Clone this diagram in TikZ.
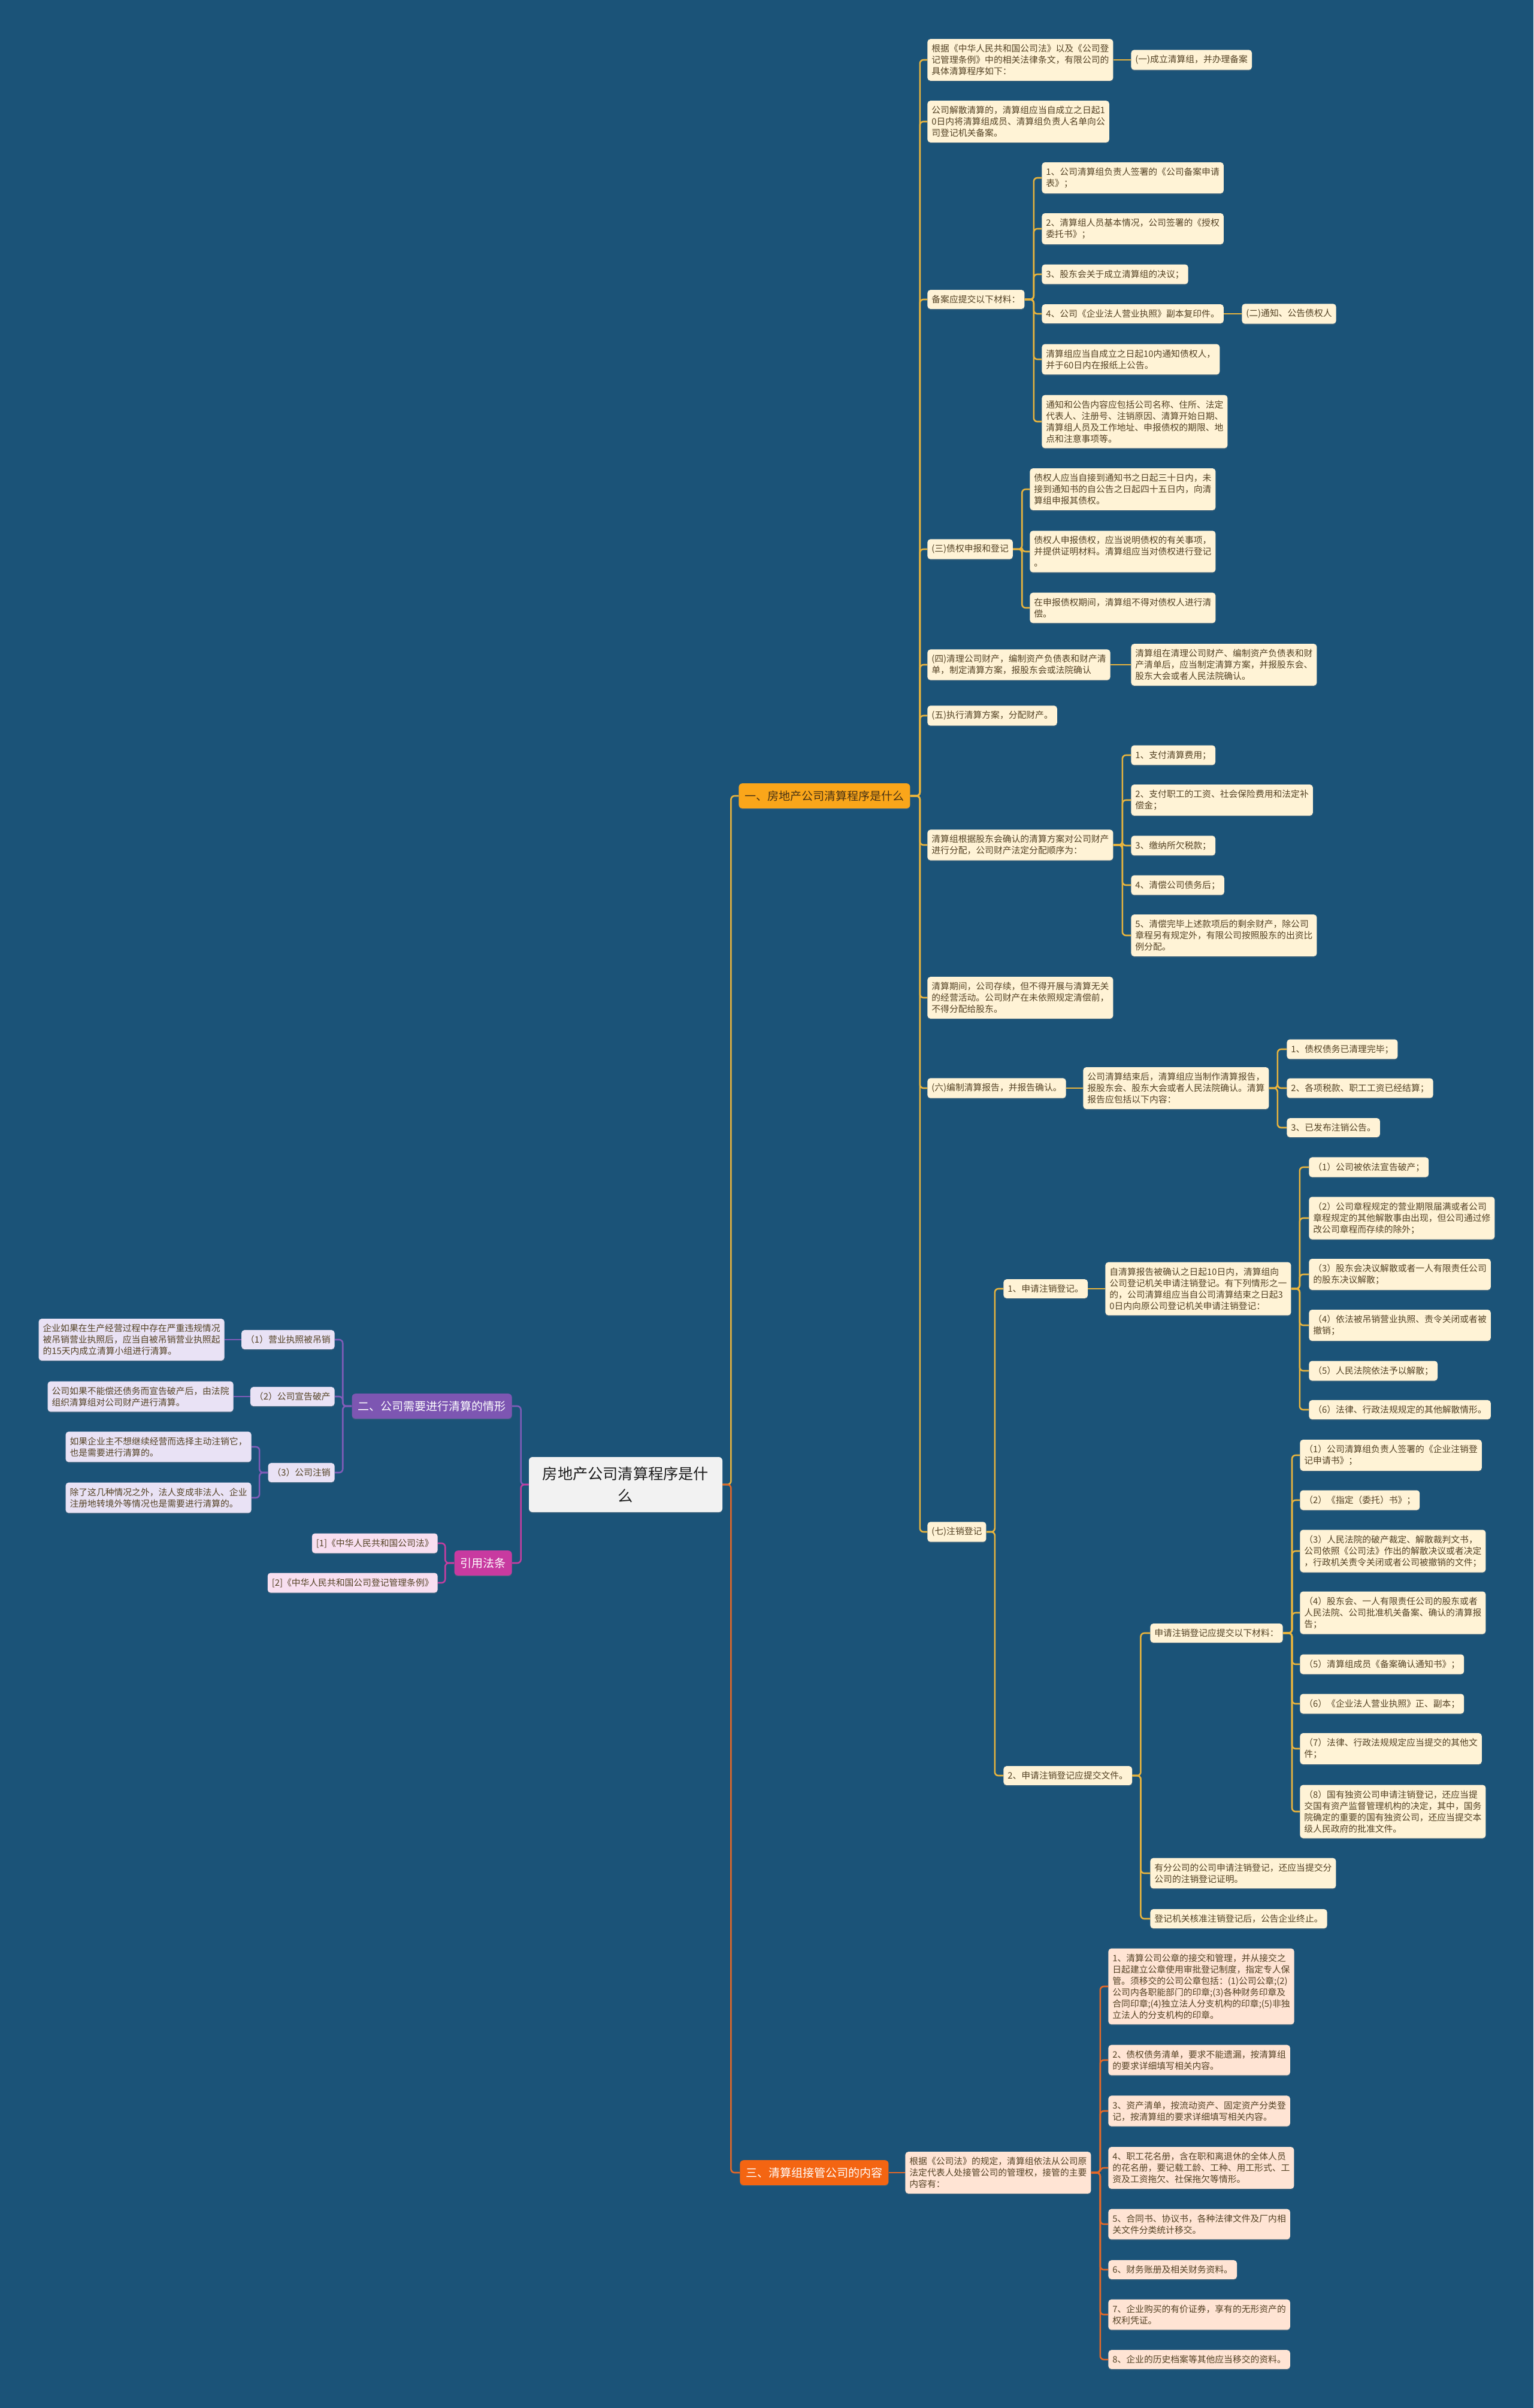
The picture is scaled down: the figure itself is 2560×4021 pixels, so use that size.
\documentclass[tikz,border=0pt]{standalone}
\usepackage{fontspec}
\setmainfont{Noto Sans CJK SC}
\usepackage{tikz}
\usetikzlibrary{shadows}

\definecolor{bgblue}{RGB}{27,83,120}
\definecolor{rootgray}{RGB}{242,242,242}
\definecolor{rootink}{RGB}{30,30,30}
\definecolor{ycream}{RGB}{255,243,214}
\definecolor{yink}{RGB}{84,66,36}
\definecolor{ygold}{RGB}{232,180,62}
\definecolor{oneorange}{RGB}{250,166,26}
\definecolor{onebrown}{RGB}{72,50,20}
\definecolor{threered}{RGB}{244,101,18}
\definecolor{opeach}{RGB}{255,228,212}
\definecolor{oline}{RGB}{228,104,40}
\definecolor{twopurple}{RGB}{125,86,178}
\definecolor{plavender}{RGB}{233,226,245}
\definecolor{pline}{RGB}{128,92,184}
\definecolor{citepink}{RGB}{200,58,160}
\definecolor{mpink}{RGB}{248,223,240}
\definecolor{mline}{RGB}{196,62,160}

\begin{document}
\begin{tikzpicture}[x=0.5pt,y=-0.5pt,
  every node/.style={inner xsep=3.5pt,inner ysep=4.5pt,rounded corners=2.5pt,align=left,
    font=\fontsize{7.4pt}{9.5pt}\selectfont,
    drop shadow={shadow xshift=0pt,shadow yshift=-0.8pt,opacity=0.3}},
  root/.style={fill=rootgray,text=rootink,align=center,minimum width=161.5pt,inner ysep=8pt,
    rounded corners=3pt,font=\fontsize{12.6pt}{18.5pt}\selectfont},
  topic/.style={inner xsep=5pt,inner ysep=6pt,rounded corners=3pt,font=\fontsize{9.5pt}{12pt}\selectfont},
  one/.style={topic,fill=oneorange,text=onebrown},
  three/.style={topic,fill=threered,text=white},
  two/.style={topic,fill=twopurple,text=white},
  cite/.style={topic,fill=citepink,text=white},
  yleaf/.style={fill=ycream,text=yink},
  oleaf/.style={fill=opeach,text=yink},
  pleaf/.style={fill=plavender,text=yink},
  mleaf/.style={fill=mpink,text=yink},
  ylink/.style={draw=ygold,line width=1.3pt,rounded corners=3pt},
  olink/.style={draw=oline,line width=1.3pt,rounded corners=3pt},
  plink/.style={draw=pline,line width=1.3pt,rounded corners=3pt},
  mlink/.style={draw=mline,line width=1.3pt,rounded corners=3pt}]

\useasboundingbox (0,0) rectangle (2560,4021);
\fill[bgblue] (0,0) rectangle (2560,4021);

\node[root] (c) at (1044.5,2479) {房地产公司清算程序是什\\么};

\node[one,anchor=west] (k1) at (1233,1329) {一、房地产公司清算程序是什么};
\node[three,anchor=west] (k4) at (1235,3628) {三、清算组接管公司的内容};
\node[two,anchor=east] (k2) at (855,2348) {二、公司需要进行清算的情形};
\node[cite,anchor=east] (k3) at (855,2610) {引用法条};

\node[yleaf,anchor=west] (y1) at (1548,100) {根据《中华人民共和国公司法》以及《公司登\\记管理条例》中的相关法律条文，有限公司的\\具体清算程序如下：};
\node[yleaf,anchor=west] (y1a) at (1888,100) {(一)成立清算组，并办理备案};
\node[yleaf,anchor=west] (y2) at (1548,203) {公司解散清算的，清算组应当自成立之日起1\\0日内将清算组成员、清算组负责人名单向公\\司登记机关备案。};
\node[yleaf,anchor=west] (y3) at (1548,500) {备案应提交以下材料：};
\node[yleaf,anchor=west] (y3a) at (1739,297) {1、公司清算组负责人签署的《公司备案申请\\表》；};
\node[yleaf,anchor=west] (y3b) at (1739,382) {2、清算组人员基本情况，公司签署的《授权\\委托书》；};
\node[yleaf,anchor=west] (y3c) at (1739,458) {3、股东会关于成立清算组的决议；};
\node[yleaf,anchor=west] (y3d) at (1739,524) {4、公司《企业法人营业执照》副本复印件。};
\node[yleaf,anchor=west] (y3d1) at (2073,524) {(二)通知、公告债权人};
\node[yleaf,anchor=west] (y3e) at (1739,600) {清算组应当自成立之日起10内通知债权人，\\并于60日内在报纸上公告。};
\node[yleaf,anchor=west] (y3f) at (1739,704) {通知和公告内容应包括公司名称、住所、法定\\代表人、注册号、注销原因、清算开始日期、\\清算组人员及工作地址、申报债权的期限、地\\点和注意事项等。};
\node[yleaf,anchor=west] (y4) at (1548,917) {(三)债权申报和登记};
\node[yleaf,anchor=west] (y4a) at (1719,817) {债权人应当自接到通知书之日起三十日内，未\\接到通知书的自公告之日起四十五日内，向清\\算组申报其债权。};
\node[yleaf,anchor=west] (y4b) at (1719,921) {债权人申报债权，应当说明债权的有关事项，\\并提供证明材料。清算组应当对债权进行登记\\。};
\node[yleaf,anchor=west] (y4c) at (1719,1015) {在申报债权期间，清算组不得对债权人进行清\\偿。};
\node[yleaf,anchor=west] (y5) at (1548,1110) {(四)清理公司财产，编制资产负债表和财产清\\单，制定清算方案，报股东会或法院确认};
\node[yleaf,anchor=west] (y5a) at (1888,1110) {清算组在清理公司财产、编制资产负债表和财\\产清单后，应当制定清算方案，并报股东会、\\股东大会或者人民法院确认。};
\node[yleaf,anchor=west] (y6) at (1548,1195) {(五)执行清算方案，分配财产。};
\node[yleaf,anchor=west] (y7) at (1548,1411) {清算组根据股东会确认的清算方案对公司财产\\进行分配，公司财产法定分配顺序为：};
\node[yleaf,anchor=west] (y7a) at (1888,1261) {1、支付清算费用；};
\node[yleaf,anchor=west] (y7b) at (1888,1336) {2、支付职工的工资、社会保险费用和法定补\\偿金；};
\node[yleaf,anchor=west] (y7c) at (1888,1412) {3、缴纳所欠税款；};
\node[yleaf,anchor=west] (y7d) at (1888,1478) {4、清偿公司债务后；};
\node[yleaf,anchor=west] (y7e) at (1888,1562) {5、清偿完毕上述款项后的剩余财产，除公司\\章程另有规定外，有限公司按照股东的出资比\\例分配。};
\node[yleaf,anchor=west] (y8) at (1548,1666) {清算期间，公司存续，但不得开展与清算无关\\的经营活动。公司财产在未依照规定清偿前，\\不得分配给股东。};
\node[yleaf,anchor=west] (y9) at (1548,1817) {(六)编制清算报告，并报告确认。};
\node[yleaf,anchor=west] (y9a) at (1808,1817) {公司清算结束后，清算组应当制作清算报告，\\报股东会、股东大会或者人民法院确认。清算\\报告应包括以下内容：};
\node[yleaf,anchor=west] (y9a1) at (2148,1752) {1、债权债务已清理完毕；};
\node[yleaf,anchor=west] (y9a2) at (2148,1817) {2、各项税款、职工工资已经结算；};
\node[yleaf,anchor=west] (y9a3) at (2148,1883) {3、已发布注销公告。};
\node[yleaf,anchor=west] (y10) at (1548,2558) {(七)注销登记};
\node[yleaf,anchor=west] (y10a) at (1675,2152) {1、申请注销登记。};
\node[yleaf,anchor=west] (y10a1) at (1845,2152) {自清算报告被确认之日起10日内，清算组向\\公司登记机关申请注销登记。有下列情形之一\\的，公司清算组应当自公司清算结束之日起3\\0日内向原公司登记机关申请注销登记：};
\node[yleaf,anchor=west] (s1) at (2185,1949) {（1）公司被依法宣告破产；};
\node[yleaf,anchor=west] (s2) at (2185,2034) {（2）公司章程规定的营业期限届满或者公司\\章程规定的其他解散事由出现，但公司通过修\\改公司章程而存续的除外；};
\node[yleaf,anchor=west] (s3) at (2185,2128) {（3）股东会决议解散或者一人有限责任公司\\的股东决议解散；};
\node[yleaf,anchor=west] (s4) at (2185,2213) {（4）依法被吊销营业执照、责令关闭或者被\\撤销；};
\node[yleaf,anchor=west] (s5) at (2185,2289) {（5）人民法院依法予以解散；};
\node[yleaf,anchor=west] (s6) at (2185,2354) {（6）法律、行政法规规定的其他解散情形。};
\node[yleaf,anchor=west] (y10b) at (1675,2965) {2、申请注销登记应提交文件。};
\node[yleaf,anchor=west] (y10b1) at (1920,2727) {申请注销登记应提交以下材料：};
\node[yleaf,anchor=west] (m1) at (2170,2430) {（1）公司清算组负责人签署的《企业注销登\\记申请书》；};
\node[yleaf,anchor=west] (m2) at (2170,2505) {（2）《指定（委托）书》；};
\node[yleaf,anchor=west] (m3) at (2170,2590) {（3）人民法院的破产裁定、解散裁判文书，\\公司依照《公司法》作出的解散决议或者决定\\，行政机关责令关闭或者公司被撤销的文件；};
\node[yleaf,anchor=west] (m4) at (2170,2693) {（4）股东会、一人有限责任公司的股东或者\\人民法院、公司批准机关备案、确认的清算报\\告；};
\node[yleaf,anchor=west] (m5) at (2170,2779) {（5）清算组成员《备案确认通知书》；};
\node[yleaf,anchor=west] (m6) at (2170,2845) {（6）《企业法人营业执照》正、副本；};
\node[yleaf,anchor=west] (m7) at (2170,2920) {（7）法律、行政法规规定应当提交的其他文\\件；};
\node[yleaf,anchor=west] (m8) at (2170,3025) {（8）国有独资公司申请注销登记，还应当提\\交国有资产监督管理机构的决定，其中，国务\\院确定的重要的国有独资公司，还应当提交本\\级人民政府的批准文件。};
\node[yleaf,anchor=west] (y10b2) at (1920,3128) {有分公司的公司申请注销登记，还应当提交分\\公司的注销登记证明。};
\node[yleaf,anchor=west] (y10b3) at (1920,3204) {登记机关核准注销登记后，公告企业终止。};

\node[oleaf,anchor=west] (o0) at (1511,3628) {根据《公司法》的规定，清算组依法从公司原\\法定代表人处接管公司的管理权，接管的主要\\内容有：};
\node[oleaf,anchor=west] (o1) at (1850,3317) {1、清算公司公章的接交和管理，并从接交之\\日起建立公章使用审批登记制度，指定专人保\\管。须移交的公司公章包括：(1)公司公章;(2)\\公司内各职能部门的印章;(3)各种财务印章及\\合同印章;(4)独立法人分支机构的印章;(5)非独\\立法人的分支机构的印章。};
\node[oleaf,anchor=west] (o2) at (1850,3440) {2、债权债务清单，要求不能遗漏，按清算组\\的要求详细填写相关内容。};
\node[oleaf,anchor=west] (o3) at (1850,3525) {3、资产清单，按流动资产、固定资产分类登\\记，按清算组的要求详细填写相关内容。};
\node[oleaf,anchor=west] (o4) at (1850,3620) {4、职工花名册，含在职和离退休的全体人员\\的花名册，要记载工龄、工种、用工形式、工\\资及工资拖欠、社保拖欠等情形。};
\node[oleaf,anchor=west] (o5) at (1850,3714) {5、合同书、协议书，各种法律文件及厂内相\\关文件分类统计移交。};
\node[oleaf,anchor=west] (o6) at (1850,3790) {6、财务账册及相关财务资料。};
\node[oleaf,anchor=west] (o7) at (1850,3865) {7、企业购买的有价证券，享有的无形资产的\\权利凭证。};
\node[oleaf,anchor=west] (o8) at (1850,3940) {8、企业的历史档案等其他应当移交的资料。};

\node[pleaf,anchor=east] (p1) at (559,2237) {（1）营业执照被吊销};
\node[pleaf,anchor=east] (p1a) at (375,2237) {企业如果在生产经营过程中存在严重违规情况\\被吊销营业执照后，应当自被吊销营业执照起\\的15天内成立清算小组进行清算。};
\node[pleaf,anchor=east] (p2) at (559,2332) {（2）公司宣告破产};
\node[pleaf,anchor=east] (p2a) at (390,2332) {公司如果不能偿还债务而宣告破产后，由法院\\组织清算组对公司财产进行清算。};
\node[pleaf,anchor=east] (p3) at (559,2459) {（3）公司注销};
\node[pleaf,anchor=east] (p3a) at (420,2416) {如果企业主不想继续经营而选择主动注销它，\\也是需要进行清算的。};
\node[pleaf,anchor=east] (p3b) at (420,2501) {除了这几种情况之外，法人变成非法人、企业\\注册地转境外等情况也是需要进行清算的。};
\node[mleaf,anchor=east] (r1) at (731,2577) {[1]《中华人民共和国公司法》};
\node[mleaf,anchor=east] (r2) at (731,2643) {[2]《中华人民共和国公司登记管理条例》};

\draw[ylink] (c.east) -- ++(14,0) |- (k1.west);
\draw[olink] (c.east) -- ++(14,0) |- (k4.west);
\draw[plink] (c.west) -- ++(-13,0) |- (k2.east);
\draw[mlink] (c.west) -- ++(-13,0) |- (k3.east);

\draw[ylink] (k1.east) -- ++(16,0) |- (y1.west);
\draw[ylink] (k1.east) -- ++(16,0) |- (y2.west);
\draw[ylink] (k1.east) -- ++(16,0) |- (y3.west);
\draw[ylink] (k1.east) -- ++(16,0) |- (y4.west);
\draw[ylink] (k1.east) -- ++(16,0) |- (y5.west);
\draw[ylink] (k1.east) -- ++(16,0) |- (y6.west);
\draw[ylink] (k1.east) -- ++(16,0) |- (y7.west);
\draw[ylink] (k1.east) -- ++(16,0) |- (y8.west);
\draw[ylink] (k1.east) -- ++(16,0) |- (y9.west);
\draw[ylink] (k1.east) -- ++(16,0) |- (y10.west);
\draw[ylink] (y1.east) -- (y1a.west);
\draw[ylink] (y3.east) -- ++(15,0) |- (y3a.west);
\draw[ylink] (y3.east) -- ++(15,0) |- (y3b.west);
\draw[ylink] (y3.east) -- ++(15,0) |- (y3c.west);
\draw[ylink] (y3.east) -- ++(15,0) |- (y3d.west);
\draw[ylink] (y3.east) -- ++(15,0) |- (y3e.west);
\draw[ylink] (y3.east) -- ++(15,0) |- (y3f.west);
\draw[ylink] (y3d.east) -- (y3d1.west);
\draw[ylink] (y4.east) -- ++(15,0) |- (y4a.west);
\draw[ylink] (y4.east) -- ++(15,0) |- (y4b.west);
\draw[ylink] (y4.east) -- ++(15,0) |- (y4c.west);
\draw[ylink] (y5.east) -- (y5a.west);
\draw[ylink] (y7.east) -- ++(15,0) |- (y7a.west);
\draw[ylink] (y7.east) -- ++(15,0) |- (y7b.west);
\draw[ylink] (y7.east) -- ++(15,0) |- (y7c.west);
\draw[ylink] (y7.east) -- ++(15,0) |- (y7d.west);
\draw[ylink] (y7.east) -- ++(15,0) |- (y7e.west);
\draw[ylink] (y9.east) -- (y9a.west);
\draw[ylink] (y9a.east) -- ++(14,0) |- (y9a1.west);
\draw[ylink] (y9a.east) -- ++(14,0) |- (y9a2.west);
\draw[ylink] (y9a.east) -- ++(14,0) |- (y9a3.west);
\draw[ylink] (y10.east) -- ++(14,0) |- (y10a.west);
\draw[ylink] (y10.east) -- ++(14,0) |- (y10b.west);
\draw[ylink] (y10a.east) -- (y10a1.west);
\draw[ylink] (y10a1.east) -- ++(14,0) |- (s1.west);
\draw[ylink] (y10a1.east) -- ++(14,0) |- (s2.west);
\draw[ylink] (y10a1.east) -- ++(14,0) |- (s3.west);
\draw[ylink] (y10a1.east) -- ++(14,0) |- (s4.west);
\draw[ylink] (y10a1.east) -- ++(14,0) |- (s5.west);
\draw[ylink] (y10a1.east) -- ++(14,0) |- (s6.west);
\draw[ylink] (y10b.east) -- ++(14,0) |- (y10b1.west);
\draw[ylink] (y10b.east) -- ++(14,0) |- (y10b2.west);
\draw[ylink] (y10b.east) -- ++(14,0) |- (y10b3.west);
\draw[ylink] (y10b1.east) -- ++(15,0) |- (m1.west);
\draw[ylink] (y10b1.east) -- ++(15,0) |- (m2.west);
\draw[ylink] (y10b1.east) -- ++(15,0) |- (m3.west);
\draw[ylink] (y10b1.east) -- ++(15,0) |- (m4.west);
\draw[ylink] (y10b1.east) -- ++(15,0) |- (m5.west);
\draw[ylink] (y10b1.east) -- ++(15,0) |- (m6.west);
\draw[ylink] (y10b1.east) -- ++(15,0) |- (m7.west);
\draw[ylink] (y10b1.east) -- ++(15,0) |- (m8.west);

\draw[olink] (k4.east) -- (o0.west);
\draw[olink] (o0.east) -- ++(15,0) |- (o1.west);
\draw[olink] (o0.east) -- ++(15,0) |- (o2.west);
\draw[olink] (o0.east) -- ++(15,0) |- (o3.west);
\draw[olink] (o0.east) -- ++(15,0) |- (o4.west);
\draw[olink] (o0.east) -- ++(15,0) |- (o5.west);
\draw[olink] (o0.east) -- ++(15,0) |- (o6.west);
\draw[olink] (o0.east) -- ++(15,0) |- (o7.west);
\draw[olink] (o0.east) -- ++(15,0) |- (o8.west);

\draw[plink] (k2.west) -- ++(-15,0) |- (p1.east);
\draw[plink] (k2.west) -- ++(-15,0) |- (p2.east);
\draw[plink] (k2.west) -- ++(-15,0) |- (p3.east);
\draw[plink] (p1.west) -- (p1a.east);
\draw[plink] (p2.west) -- (p2a.east);
\draw[plink] (p3.west) -- ++(-14,0) |- (p3a.east);
\draw[plink] (p3.west) -- ++(-14,0) |- (p3b.east);
\draw[mlink] (k3.west) -- ++(-15,0) |- (r1.east);
\draw[mlink] (k3.west) -- ++(-15,0) |- (r2.east);
\end{tikzpicture}
\end{document}
